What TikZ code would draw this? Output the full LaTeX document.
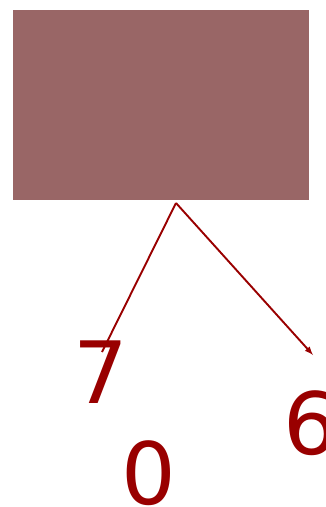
\documentclass[tikz,border=0pt]{standalone}
\usepackage{fontspec}
\setmainfont{DejaVu Sans}
\usepackage{tikz}
\usetikzlibrary{positioning,calc}
\usepackage{xcolor}
\definecolor{boxfill}{HTML}{996666}
\definecolor{darkred}{HTML}{990000}

\begin{document}
\begin{tikzpicture}[x=1pt,y=-1pt,
  digit/.style={text=darkred,inner sep=0pt,anchor=base,font=\fontsize{86}{86}\selectfont},
  edge/.style={draw=darkred,line width=1.9pt}]
  \useasboundingbox (0,0) rectangle (326,507);
  \node[fill=boxfill,inner sep=0pt,minimum width=296pt,minimum height=190pt,anchor=north west] (box) at (13,10) {};
  \coordinate (root) at (176,203);
  \node[digit] (seven) at (101,403) {7};
  \node[digit] (zero) at (149,504) {0};
  \node[digit] (six) at (311,454) {6};
  \coordinate (tipseven) at (102,352);
  \coordinate (tipsix) at (313,355);
  \draw[edge] (root)--(tipseven);
  \draw[edge,-latex] (root)--(tipsix);
\end{tikzpicture}
\end{document}
